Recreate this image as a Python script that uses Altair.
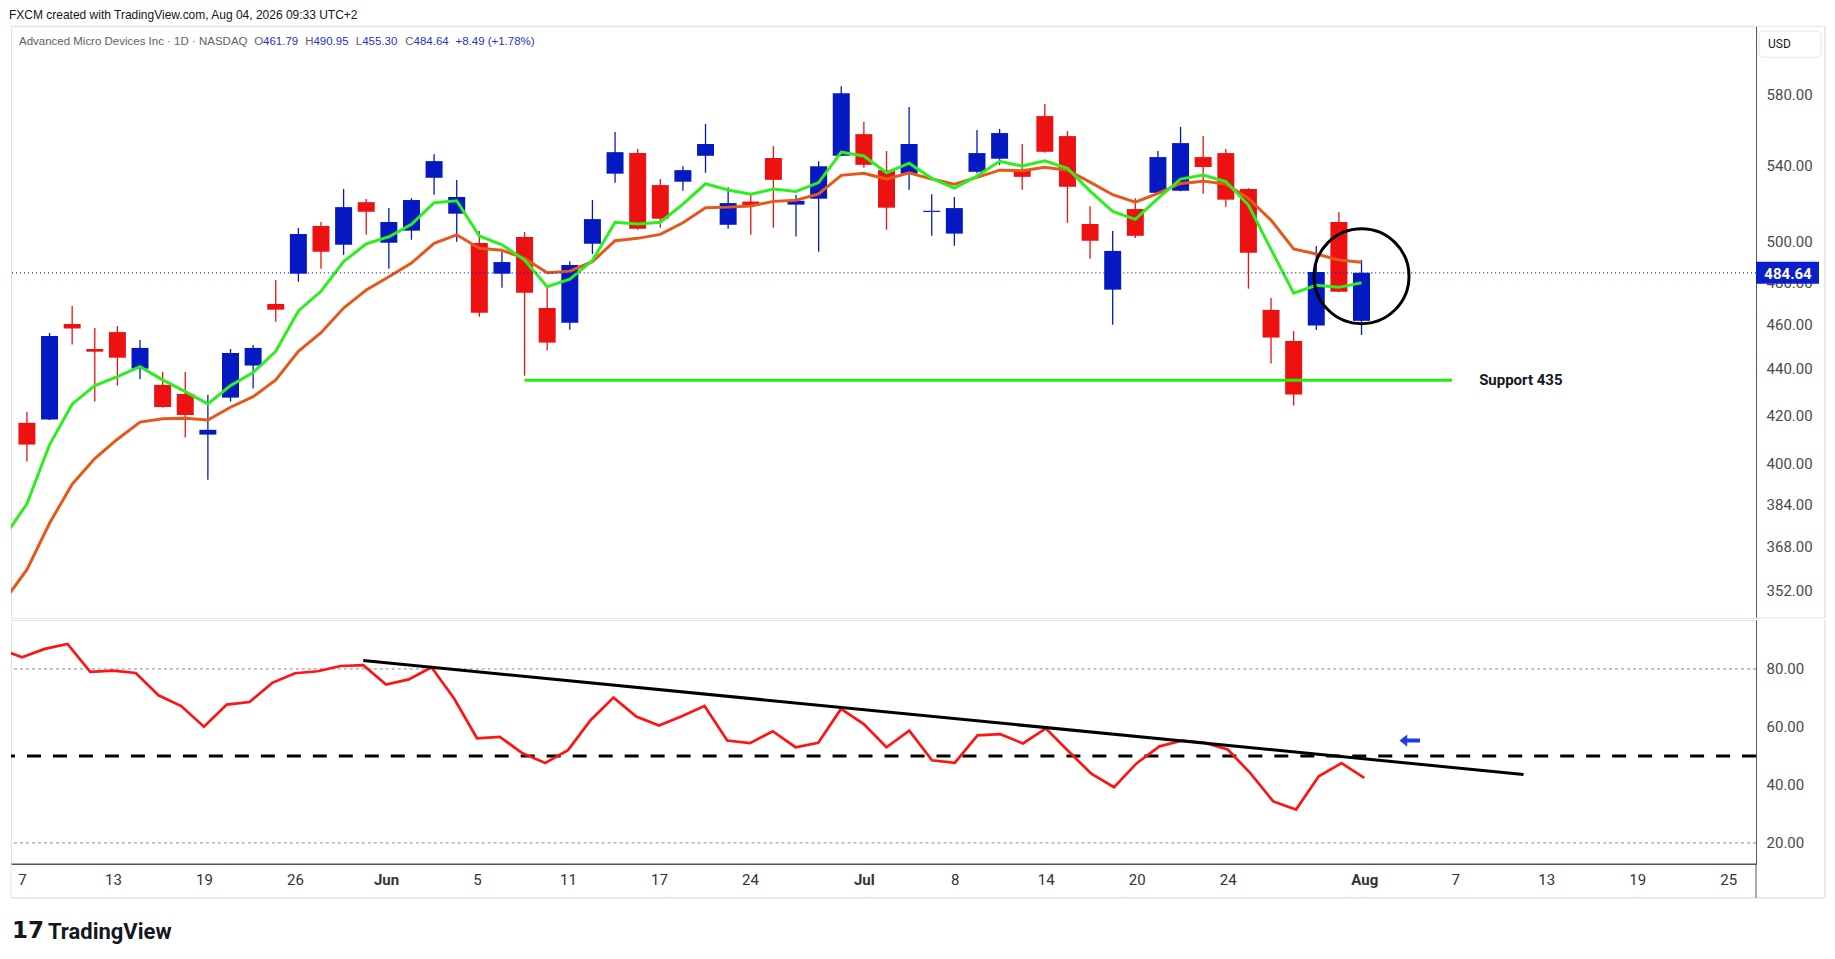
import altair as alt
import pandas as pd

# ---------------- data ----------------
dates = [
    "2026-05-07", "2026-05-08", "2026-05-11", "2026-05-12", "2026-05-13", "2026-05-14", "2026-05-15",
    "2026-05-18", "2026-05-19", "2026-05-20", "2026-05-21", "2026-05-22", "2026-05-26", "2026-05-27",
    "2026-05-28", "2026-05-29", "2026-06-01", "2026-06-02", "2026-06-03", "2026-06-04", "2026-06-05",
    "2026-06-08", "2026-06-09", "2026-06-10", "2026-06-11", "2026-06-12", "2026-06-15", "2026-06-16",
    "2026-06-17", "2026-06-18", "2026-06-22", "2026-06-23", "2026-06-24", "2026-06-25", "2026-06-26",
    "2026-06-29", "2026-06-30", "2026-07-01", "2026-07-02", "2026-07-06", "2026-07-07", "2026-07-08",
    "2026-07-09", "2026-07-10", "2026-07-13", "2026-07-14", "2026-07-15", "2026-07-16", "2026-07-17",
    "2026-07-20", "2026-07-21", "2026-07-22", "2026-07-23", "2026-07-24", "2026-07-27", "2026-07-28",
    "2026-07-29", "2026-07-30", "2026-07-31", "2026-08-03",
]
opens = [416.8, 418.2, 460.3, 448.9, 456.6, 440.1, 433.0, 429.1, 411.9, 427.5,
         441.5, 469.7, 484.2, 508.0, 498.5, 520.3, 499.5, 505.6, 533.2, 514.3,
         499.4, 484.2, 502.4, 467.8, 460.9, 499.0, 535.4, 546.6, 529.3, 531.1,
         545.1, 508.6, 520.6, 543.9, 519.0, 522.1, 545.1, 557.1, 537.3, 535.4,
         515.2, 504.1, 536.4, 543.5, 537.3, 567.3, 556.0, 509.0, 476.5, 516.7,
         525.2, 526.3, 544.4, 546.6, 527.2, 466.9, 452.5, 459.6, 510.0, 461.79]
highs = [421.4, 456.2, 468.7, 458.5, 459.4, 453.0, 438.7, 438.7, 428.7, 448.9,
         450.7, 481.1, 506.9, 510.0, 527.2, 521.9, 517.2, 522.4, 546.0, 532.0,
         505.4, 495.0, 504.9, 477.6, 490.3, 521.4, 558.3, 548.8, 532.5, 539.4,
         562.8, 528.1, 524.0, 550.4, 524.0, 542.2, 584.6, 563.9, 547.7, 572.5,
         524.5, 523.0, 559.4, 560.0, 551.6, 574.2, 558.8, 518.2, 505.4, 522.4,
         547.7, 561.1, 556.0, 548.8, 527.7, 472.5, 457.1, 497.9, 515.2, 490.95]
lows = [400.9, 418.0, 450.9, 425.8, 432.7, 435.6, 423.2, 410.7, 393.6, 425.8,
        431.4, 461.4, 480.3, 486.6, 493.4, 503.5, 486.6, 501.0, 524.2, 500.0,
        463.7, 477.4, 437.0, 448.2, 457.7, 493.9, 530.5, 506.0, 507.1, 526.3,
        535.9, 506.6, 503.5, 507.1, 502.6, 495.0, 544.8, 538.6, 506.1, 526.8,
        503.0, 498.0, 535.6, 540.1, 526.8, 546.8, 509.6, 491.5, 460.0, 501.9,
        525.0, 526.0, 524.7, 517.9, 477.0, 442.4, 424.1, 457.6, 475.3, 455.30]
closes = [407.8, 454.8, 458.2, 447.7, 445.0, 449.4, 423.5, 420.1, 413.9, 447.1,
          449.4, 467.0, 503.9, 495.0, 517.7, 515.3, 510.0, 521.4, 542.2, 523.0,
          465.6, 489.9, 475.0, 451.8, 488.4, 511.5, 547.1, 506.6, 511.7, 537.3,
          551.6, 519.8, 518.4, 532.1, 521.0, 539.4, 580.5, 540.2, 517.4, 551.6,
          515.8, 517.2, 546.6, 557.7, 533.7, 547.3, 528.4, 500.5, 495.4, 503.0,
          544.4, 552.1, 539.0, 521.6, 494.5, 454.1, 428.8, 485.0, 475.5, 484.64]

# moving averages and RSI, bar 0 (previous session) through bar 60
ma_fast = [371.7, 384.2, 407.7, 424.7, 432.7, 436.6, 441.0, 435.2, 430.1, 424.8,
           432.7, 438.4, 447.9, 466.4, 475.7, 490.1, 498.9, 502.5, 508.8, 520.0,
           521.0, 502.9, 498.5, 490.9, 477.9, 481.5, 490.6, 509.9, 509.0, 509.9,
           519.3, 530.0, 526.7, 524.4, 527.2, 525.9, 530.6, 547.1, 545.0, 535.9,
           541.1, 532.9, 527.7, 534.1, 542.1, 539.5, 542.4, 538.3, 526.1, 515.5,
           511.4, 522.3, 532.5, 534.7, 531.2, 518.8, 496.2, 474.8, 478.6, 477.6, 479.8]
ma_slow = [348.6, 359.6, 376.8, 391.9, 402.1, 410.0, 417.1, 418.5, 418.7, 418.0,
           423.4, 427.9, 435.2, 447.9, 456.3, 467.8, 476.3, 482.7, 489.4, 499.2,
           503.5, 496.7, 495.7, 491.7, 484.7, 485.4, 490.1, 500.5, 501.7, 503.7,
           509.6, 517.4, 517.7, 518.3, 520.7, 521.3, 524.6, 534.5, 535.6, 532.5,
           535.9, 532.5, 529.8, 533.4, 537.3, 537.0, 538.8, 537.3, 530.9, 524.2,
           520.3, 524.9, 530.2, 531.4, 529.9, 522.3, 511.0, 496.4, 493.9, 490.9, 489.8]
rsi = [87.0, 84.0, 86.9, 88.6, 79.0, 79.4, 78.6, 70.9, 67.2, 60.1,
       67.7, 68.6, 75.2, 78.5, 79.2, 81.0, 81.3, 74.6, 76.4, 80.6,
       69.7, 56.1, 56.6, 50.9, 47.6, 52.0, 62.4, 70.1, 63.6, 60.5,
       63.7, 67.2, 55.3, 54.4, 58.5, 53.0, 54.5, 66.2, 61.0, 53.0,
       58.7, 48.5, 47.6, 57.1, 57.5, 54.3, 59.5, 51.6, 43.9, 39.2,
       47.5, 53.3, 55.3, 54.5, 52.2, 44.0, 34.3, 31.5, 43.0, 47.5, 42.4]

tick_idx = [1, 5, 9, 13, 17, 21, 25, 29, 33, 38, 42, 46, 50, 54, 60, 64, 68, 72, 76]
tick_labels = ["7", "13", "19", "26", "Jun", "5", "11", "17", "24", "Jul",
               "8", "14", "20", "24", "Aug", "7", "13", "19", "25"]
month_idx = [17, 38, 60]
price_ticks = [352, 368, 384, 400, 420, 440, 460, 480, 500, 540, 580]
rsi_ticks = [20, 40, 60, 80]

support_level = [435]
support_start = [23]
support_end = [64]
support_text = ["Support 435"]
trend_idx = [16, 67]
trend_val = [82.9, 43.6]
last_price = [484.64]
last_price_text = ["484.64"]
circle_idx = [60]
circle_price = [483.0]
arrow_idx = [62]
arrow_val = [55.3]
rsi_levels_dotted = [80, 20]
rsi_mid = [50]

header_top = ["FXCM created with TradingView.com, Aug 04, 2026 09:33 UTC+2"]
legend_name = ["Advanced Micro Devices Inc \u00b7 1D \u00b7 NASDAQ"]
ohlc_letters = ["O", "H", "L", "C"]
ohlc_values = ["461.79", "490.95", "455.30", "484.64"]
change_text = ["+8.49 (+1.78%)"]
currency = ["USD"]
brand = ["TradingView"]
brand_icon = ["17"]

# ---------------- styling ----------------
BLUE = "#0519c2"
RED = "#ee1111"
GREEN_MA = "#2cef1d"
ORANGE_MA = "#e6581a"
RSI_RED = "#ff1414"
SUPPORT_GREEN = "#22ee11"
LABEL_BLUE = "#0a1fc9"
TEXT_BLUE = "#2233cc"
GRAY_TXT = "#5d606b"
BORDER = "#e0e3eb"
AXIS_DARK = "#555555"
HFONT = "Liberation Sans"

W, H1, H2 = 1746, 592, 244

n = len(dates)
candles = pd.DataFrame({
    "idx": list(range(1, n + 1)), "date": dates,
    "open": opens, "high": highs, "low": lows, "close": closes,
})
candles["dir"] = ["up" if c >= o else "down" for o, c in zip(opens, closes)]
ind = pd.DataFrame({"idx": list(range(0, n + 1)), "fast": ma_fast, "slow": ma_slow, "rsi": rsi})

xs = alt.Scale(domain=[0.517, 77.22], nice=False, zero=False)
ys = alt.Scale(type="log", domain=[342.6, 620.9], nice=False, zero=False)
rs = alt.Scale(domain=[12.8, 96.9], nice=False, zero=False)
col = alt.Scale(domain=["up", "down"], range=[BLUE, RED])

price_axis = alt.Axis(orient="right", values=price_ticks, format=".2f", grid=False, ticks=False,
                      tickSize=0, labelPadding=10, title=None, labelOverlap=False,
                      domainColor=AXIS_DARK, labelFontSize=15, labelColor="#4a4a4a")
rsi_axis = alt.Axis(orient="right", values=rsi_ticks, format=".2f", grid=False, ticks=False,
                    tickSize=0, labelPadding=10, title=None, labelOverlap=False,
                    domainColor=AXIS_DARK, labelFontSize=15, labelColor="#4a4a4a")
idx_str = ",".join(str(v) for v in tick_idx)
lab_str = ",".join("'" + s + "'" for s in tick_labels)
mon_str = ",".join(str(v) for v in month_idx)
x_axis = alt.Axis(values=tick_idx, labelExpr=f"[{lab_str}][indexof([{idx_str}], datum.value)]",
                  title=None, grid=False, ticks=False, tickSize=0, labelPadding=9,
                  labelFlush=False, labelOverlap=False, domainColor=AXIS_DARK, domainWidth=1.5,
                  labelFontSize=15, labelColor="#333333",
                  labelFontWeight={"condition": {"test": f"indexof([{mon_str}], datum.value) >= 0",
                                                 "value": "bold"}, "value": "normal"})

X0 = alt.X("idx:Q", scale=xs, axis=None)


def one(**cols):
    return pd.DataFrame(cols)


def txt(text, x, y, size=13, color="#131722", weight="normal", font=HFONT, align="left"):
    return alt.Chart(one(t=[text])).mark_text(
        align=align, baseline="middle", fontSize=size, color=color, fontWeight=weight, font=font
    ).encode(text="t:N", x=alt.value(x), y=alt.value(y))


def frame(x, y, x2=None, y2=None, color=BORDER, width=1):
    enc = {"x": alt.value(x), "y": alt.value(y)}
    if x2 is not None:
        enc["x2"] = alt.value(x2)
    if y2 is not None:
        enc["y2"] = alt.value(y2)
    return alt.Chart(one(t=["f"])).mark_rule(color=color, strokeWidth=width).encode(**enc)


# ---------------- price panel ----------------
base = alt.Chart(candles).encode(x=X0)
wicks = base.mark_rule(strokeWidth=1.3).encode(
    y=alt.Y("low:Q", scale=ys, axis=price_axis), y2="high:Q",
    color=alt.Color("dir:N", scale=col, legend=None))
bodies = base.mark_bar(size=17).encode(
    y=alt.Y("open:Q", scale=ys, axis=price_axis), y2="close:Q",
    color=alt.Color("dir:N", scale=col, legend=None))
slow_line = alt.Chart(ind).mark_line(color=ORANGE_MA, strokeWidth=3, clip=True).encode(
    x=X0, y=alt.Y("slow:Q", scale=ys, axis=price_axis))
fast_line = alt.Chart(ind).mark_line(color=GREEN_MA, strokeWidth=3, clip=True).encode(
    x=X0, y=alt.Y("fast:Q", scale=ys, axis=price_axis))
support = alt.Chart(one(a=support_start, b=support_end, lvl=support_level)).mark_rule(
    color=SUPPORT_GREEN, strokeWidth=3).encode(
    x=alt.X("a:Q", scale=xs, axis=None), x2="b:Q", y=alt.Y("lvl:Q", scale=ys, axis=price_axis))
support_lbl = alt.Chart(one(a=[65.2], lvl=support_level, t=support_text)).mark_text(
    align="left", baseline="middle", fontSize=15, fontWeight="bold", color="#131722", font="Roboto"
).encode(x=alt.X("a:Q", scale=xs, axis=None), y=alt.Y("lvl:Q", scale=ys, axis=price_axis), text="t:N")
last_rule = alt.Chart(one(p=last_price)).mark_rule(
    color=LABEL_BLUE, strokeWidth=1.2, strokeDash=[1, 3]).encode(
    y=alt.Y("p:Q", scale=ys, axis=price_axis))
circle = alt.Chart(one(i=circle_idx, p=circle_price)).mark_point(
    shape="circle", size=9025, filled=False, color="black", strokeWidth=3, opacity=1).encode(
    x=alt.X("i:Q", scale=xs, axis=None), y=alt.Y("p:Q", scale=ys, axis=price_axis))
price_box = alt.Chart(one(p=last_price)).mark_rect(
    color=LABEL_BLUE, yOffset=-11, y2Offset=11).encode(
    x=alt.value(W), x2=alt.value(W + 63),
    y=alt.Y("p:Q", scale=ys, axis=price_axis), y2="p:Q")
price_txt = alt.Chart(one(p=last_price, t=last_price_text)).mark_text(
    align="center", baseline="middle", color="white", fontWeight="bold", fontSize=15, font="Roboto",
    dy=1).encode(x=alt.value(W + 32), y=alt.Y("p:Q", scale=ys, axis=price_axis), text="t:N")
usd_box = alt.Chart(one(t=currency)).mark_rect(
    fill="white", stroke=BORDER, strokeWidth=1, cornerRadius=4).encode(
    x=alt.value(W + 3), x2=alt.value(W + 65), y=alt.value(5), y2=alt.value(31))

headers = [
    txt(header_top[0], -2, -11, size=12),
    txt(legend_name[0], 8, 15.7, size=11.5, color=GRAY_TXT),
]
letter_x = [243.3, 294.3, 345, 394.5]
letter_w = [8.9, 8.3, 6.4, 8.3]
for lt, val, lx, lw in zip(ohlc_letters, ohlc_values, letter_x, letter_w):
    headers.append(txt(lt, lx, 15.7, size=11.5, color=GRAY_TXT))
    headers.append(txt(val, lx + lw, 15.7, size=11.5, color=TEXT_BLUE))
headers.append(txt(change_text[0], 444.7, 15.7, size=11.5, color=TEXT_BLUE))
headers.append(usd_box)
headers.append(txt(currency[0], W + 12, 18, size=12, font="Roboto"))

price = alt.layer(
    frame(0, 0, x2=W + 69),
    frame(W + 69, 0, y2=H1, width=1.5),
    frame(W, H1, x2=W + 69),
    wicks, bodies, slow_line, fast_line, support, support_lbl, last_rule,
    circle, price_box, price_txt, *headers
).properties(width=W, height=H1)

# ---------------- RSI panel ----------------
XR = alt.X("idx:Q", scale=xs, axis=x_axis)
dotted = alt.Chart(one(v=rsi_levels_dotted)).mark_rule(
    color="#8a8a8a", strokeWidth=1, strokeDash=[3, 3]).encode(
    y=alt.Y("v:Q", scale=rs, axis=rsi_axis))
mid = alt.Chart(one(v=rsi_mid)).mark_rule(
    color="black", strokeWidth=3, strokeDash=[14, 12]).encode(
    y=alt.Y("v:Q", scale=rs, axis=rsi_axis))
rsi_line = alt.Chart(ind).mark_line(color=RSI_RED, strokeWidth=2.7, clip=True).encode(
    x=XR, y=alt.Y("rsi:Q", scale=rs, axis=rsi_axis))
trend = alt.Chart(one(i=trend_idx, v=trend_val)).mark_line(
    color="black", strokeWidth=3).encode(
    x=alt.X("i:Q", scale=xs, axis=x_axis), y=alt.Y("v:Q", scale=rs, axis=rsi_axis))
arrow = alt.Chart(one(i=arrow_idx, v=arrow_val)).mark_point(
    shape="M-1,0 L-0.25,-0.6 L-0.25,-0.2 L1,-0.2 L1,0.2 L-0.25,0.2 L-0.25,0.6 Z",
    size=420, filled=True, color="#1f3ddd", opacity=1).encode(
    x=alt.X("i:Q", scale=xs, axis=x_axis), y=alt.Y("v:Q", scale=rs, axis=rsi_axis))

logo_icon = txt(brand_icon[0], 1, H2 + 67, size=23, weight="bold", font="DejaVu Sans")
logo_word = txt(brand[0], 37, H2 + 68, size=22, weight="bold", font="Roboto")

rsi_panel = alt.layer(
    dotted, mid, rsi_line, trend, arrow,
    frame(0, H2 + 34, x2=W + 69, width=1.5),
    frame(0, H2, y2=H2 + 34),
    frame(W + 69, 0, y2=H2 + 34, width=1.5),
    frame(W, H2, y2=H2 + 34, color=AXIS_DARK),
    logo_icon, logo_word
).properties(width=W, height=H2)

chart = alt.vconcat(price, rsi_panel, spacing=-2).resolve_scale(
    x="independent", y="independent", color="independent"
).properties(padding=0).configure(
    font="Roboto", background="white"
).configure_view(stroke=BORDER, strokeWidth=1)

chart.save("out.html", embed_options={"renderer": "svg", "actions": False})
